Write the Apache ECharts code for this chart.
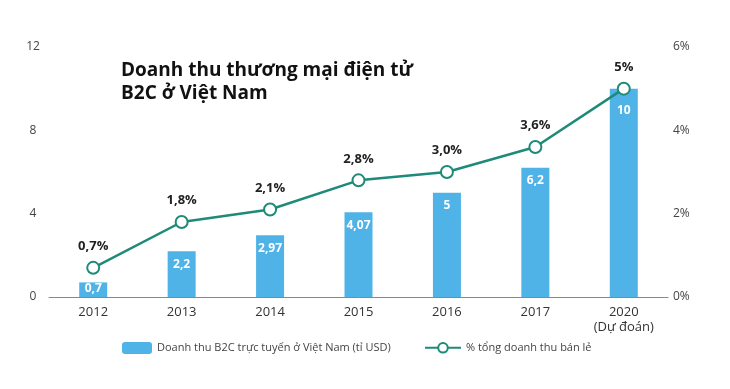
<!DOCTYPE html>
<html><head><meta charset="utf-8">
<script src="https://cdn.jsdelivr.net/npm/echarts@6/dist/echarts.min.js"></script>
<style>html,body{margin:0;padding:0;background:#fff}#c{width:730px;height:389px}</style>
</head><body><div id="c"></div>
<script>
const categories = ['2012','2013','2014','2015','2016','2017','2020\n(Dự đoán)'];
const revenue = [0.7, 2.2, 2.97, 4.07, 5, 6.2, 10];
const share = [0.7, 1.8, 2.1, 2.8, 3.0, 3.6, 5];
const leftTicks = [0, 4, 8, 12];
const rightTicks = [0, 2, 4, 6];
const barName = 'Doanh thu B2C trực tuyến ở Việt Nam (tỉ USD)';
const lineName = '% tổng doanh thu bán lẻ';
const titleText = 'Doanh thu thương mại điện tử\nB2C ở Việt Nam';

const fmt = v => String(v).replace('.', ',');
const fmtPct = v => (v === 5 ? '5' : v.toFixed(1).replace('.', ',')) + '%';

const barData = revenue.map((v, i) => {
  let dist = 7;
  if (v < 1) dist = 0;
  if (i === revenue.length - 1) dist = 16;
  return { value: v, label: { distance: dist } };
});

const chart = echarts.init(document.getElementById('c'));
chart.setOption({
  animation: false,
  textStyle: { fontFamily: 'Open Sans' },
  title: {
    text: titleText, left: 116, top: 54,
    textStyle: { fontFamily: 'Open Sans', fontWeight: 'bold', fontSize: 19, color: '#111', lineHeight: 23 }
  },
  grid: { left: 49, right: 62, top: 47, bottom: 92 },
  legend: [
    { data: [barName], left: 117, top: 337, itemWidth: 30, itemHeight: 12, itemGap: 8,
      textStyle: { fontSize: 11, color: '#444' } },
    { data: [lineName], left: 419, top: 337, itemWidth: 36, itemHeight: 12,
      textStyle: { fontSize: 11, color: '#444' } }
  ],
  xAxis: {
    type: 'category', data: categories,
    axisLine: { lineStyle: { color: '#888', width: 1 } },
    axisTick: { show: false },
    axisLabel: { fontSize: 13, color: '#333', margin: 8, lineHeight: 15 }
  },
  yAxis: [
    { type: 'value', min: 0, max: 12, interval: 4, splitLine: { show: false },
      axisLine: { show: false }, axisTick: { show: false },
      axisLabel: { fontSize: 12, color: '#444', margin: 16, align: 'center' } },
    { type: 'value', min: 0, max: 6, interval: 2, splitLine: { show: false },
      axisLine: { show: false }, axisTick: { show: false },
      axisLabel: { fontSize: 12, color: '#444', margin: 5, formatter: v => v + '%' } }
  ],
  series: [
    { name: barName, type: 'bar', data: barData, barWidth: 28, yAxisIndex: 0,
      itemStyle: { color: '#4fb3e8' },
      label: { show: true, position: 'insideTop', color: '#fff', fontWeight: 'bold', fontSize: 12,
        formatter: p => fmt(p.value) } },
    { name: lineName, type: 'line', data: share, yAxisIndex: 1,
      symbol: 'circle', symbolSize: 12,
      lineStyle: { color: '#1e8a78', width: 2.5 },
      itemStyle: { color: '#fff', borderColor: '#1e8a78', borderWidth: 2 },
      label: { show: true, position: 'top', distance: 8, color: '#222', fontWeight: 'bold', fontSize: 13,
        formatter: p => fmtPct(p.value) } }
  ]
});
</script></body></html>
